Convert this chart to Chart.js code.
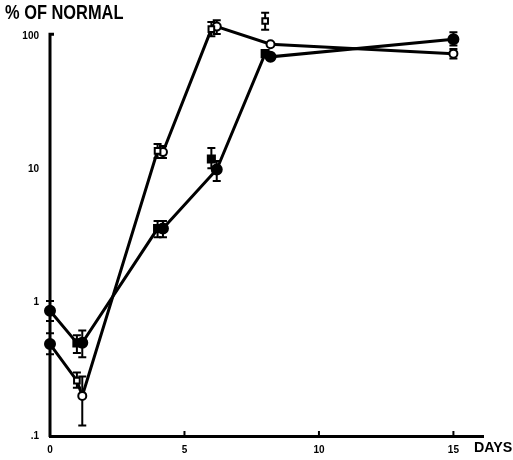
<!DOCTYPE html>
<html>
<head>
<meta charset="utf-8">
<script src="https://cdn.jsdelivr.net/npm/chart.js@4/dist/chart.umd.min.js"></script>
<style>
  body { margin: 0; background: #fff; }
  #wrap { position: relative; width: 513px; height: 460px; }
  .lbl { position: absolute; font-family: "Liberation Sans", Arial, sans-serif; font-weight: bold; color: #000; transform-origin: 0 0; white-space: nowrap; }
</style>
</head>
<body>
<div id="wrap">
  <canvas id="chart" width="513" height="460"></canvas>
  <div class="lbl" style="left:5px;top:1px;font-size:20px;transform:scaleX(0.82);">% OF NORMAL</div>
  <div class="lbl" style="left:474px;top:438px;font-size:15px;transform:scaleX(0.95);">DAYS</div>
</div>
<script>
// days / % of normal
const openSqX = [1, 4, 6, 8];
const openSqY = [0.26, 13.8, 113, 130];
const openSqLo = [0.23, 12.2, 100, 112];
const openSqHi = [0.30, 15.5, 128, 150];

const openCiX = [1.2, 4.2, 6.2, 8.2, 15];
const openCiY = [0.2, 13.5, 118, 87, 74];
const openCiLo = [0.12, 12.2, 104, 87, 68];
const openCiHi = [0.28, 15, 132, 87, 80];

const fillSqX = [1, 4, 6, 8];
const fillSqY = [0.5, 3.6, 12, 74];
const fillSqLo = [0.42, 3.1, 10.2, 74];
const fillSqHi = [0.57, 4.1, 14.5, 74];

const fillCiX = [0, 0, 1.2, 4.2, 6.2, 8.2, 15];
const fillCiY = [0.87, 0.49, 0.5, 3.6, 10, 70, 95];
const fillCiLo = [0.73, 0.41, 0.39, 3.1, 8.2, 70, 85];
const fillCiHi = [1.03, 0.59, 0.62, 4.1, 11.6, 70, 107];

// the two connecting lines
const openLineX = [0, 1, 1.2, 4, 4.2, 6, 6.2, 8.2, 15];
const openLineY = [0.49, 0.26, 0.2, 13.8, 13.5, 113, 118, 87, 74];
const fillLineX = [0, 1, 1.2, 4, 4.2, 6.2, 8, 8.2, 15];
const fillLineY = [0.87, 0.5, 0.5, 3.6, 3.6, 10, 74, 70, 95];

const xTicks = [5, 10, 15];
const yTicks = { 0.1: ".1", 1: "1", 10: "10", 100: "100" };
const yAxisTop = 100;

const pts = (xs, ys) => xs.map((x, i) => ({ x: x, y: ys[i] }));

const markers = (xs, ys, lo, hi, style, fill, r) => ({
	data: pts(xs, ys),
	errLo: lo,
	errHi: hi,
	showLine: false,
	clip: false,
	pointStyle: style,
	pointRadius: r,
	pointBackgroundColor: fill,
	pointBorderColor: "#000",
	pointBorderWidth: 2,
	order: 0,
});

const line = (xs, ys) => ({
	data: pts(xs, ys),
	showLine: true,
	clip: false,
	borderColor: "#000",
	borderWidth: 3,
	pointRadius: 0,
	order: 1,
});

// vertical error bars with caps, the y axis line (stops at 100), small x ticks
const errorBars = {
	id: "errorBars",
	beforeDatasetsDraw(chart) {
		const { ctx, scales } = chart;
		ctx.save();
		ctx.strokeStyle = "#000";
		ctx.lineWidth = 3;
		ctx.beginPath();
		ctx.moveTo(scales.x.left, scales.y.getPixelForValue(0.1) + 1);
		ctx.lineTo(scales.x.left, scales.y.getPixelForValue(yAxisTop) - 2);
		ctx.lineTo(scales.x.left + 4, scales.y.getPixelForValue(yAxisTop) - 2);
		ctx.stroke();

		ctx.lineWidth = 2;
		const yb = scales.y.getPixelForValue(0.1);
		xTicks.forEach((t) => {
			const x = scales.x.getPixelForValue(t);
			ctx.beginPath();
			ctx.moveTo(x, yb);
			ctx.lineTo(x, yb - 5);
			ctx.stroke();
		});

		chart.data.datasets.forEach((ds) => {
			if (!ds.errLo) return;
			ds.data.forEach((p, i) => {
				const x = scales.x.getPixelForValue(p.x);
				const y1 = scales.y.getPixelForValue(ds.errLo[i]);
				const y2 = scales.y.getPixelForValue(ds.errHi[i]);
				if (Math.abs(y1 - y2) < 1) return;
				ctx.beginPath();
				ctx.moveTo(x, y1);
				ctx.lineTo(x, y2);
				ctx.moveTo(x - 4, y1);
				ctx.lineTo(x + 4, y1);
				ctx.moveTo(x - 4, y2);
				ctx.lineTo(x + 4, y2);
				ctx.stroke();
			});
		});
		ctx.restore();
	},
};

const ctx = document.getElementById("chart").getContext("2d");
new Chart(ctx, {
	type: "scatter",
	data: {
		datasets: [
			markers(openSqX, openSqY, openSqLo, openSqHi, "rect", "#fff", 4),
			markers(openCiX, openCiY, openCiLo, openCiHi, "circle", "#fff", 4),
			markers(fillSqX, fillSqY, fillSqLo, fillSqHi, "rect", "#000", 5),
			markers(fillCiX, fillCiY, fillCiLo, fillCiHi, "circle", "#000", 5),
			line(openLineX, openLineY),
			line(fillLineX, fillLineY),
		],
	},
	options: {
		responsive: false,
		animation: false,
		layout: { padding: { top: 8, right: 30, left: 0, bottom: 0 } },
		scales: {
			x: {
				type: "linear",
				min: 0,
				max: 16.1,
				grid: { display: false },
				border: { color: "#000", width: 3 },
				ticks: {
					stepSize: 5,
					includeBounds: false,
					maxRotation: 0,
					color: "#000",
					padding: 0,
					font: { family: "Liberation Sans", size: 10, weight: "bold" },
					callback: (v) => (v % 5 === 0 && v <= 15 ? v : ""),
				},
				afterFit: (s) => { s.height = 24; },
			},
			y: {
				type: "logarithmic",
				min: 0.1,
				max: 160,
				grid: { display: false },
				border: { display: false },
				ticks: {
					color: "#000",
					padding: 3,
					autoSkip: false,
					font: { family: "Liberation Sans", size: 10, weight: "bold" },
					callback: (v) => {
						const l = Math.log10(v);
						if (Math.abs(l - Math.round(l)) > 1e-6) return "";
						return yTicks[Math.pow(10, Math.round(l)).toString()] || "";
					},
				},
				afterFit: (s) => { s.width = 50; },
			},
		},
		plugins: {
			legend: { display: false },
			tooltip: { enabled: false },
		},
	},
	plugins: [errorBars],
});
</script>
</body>
</html>
